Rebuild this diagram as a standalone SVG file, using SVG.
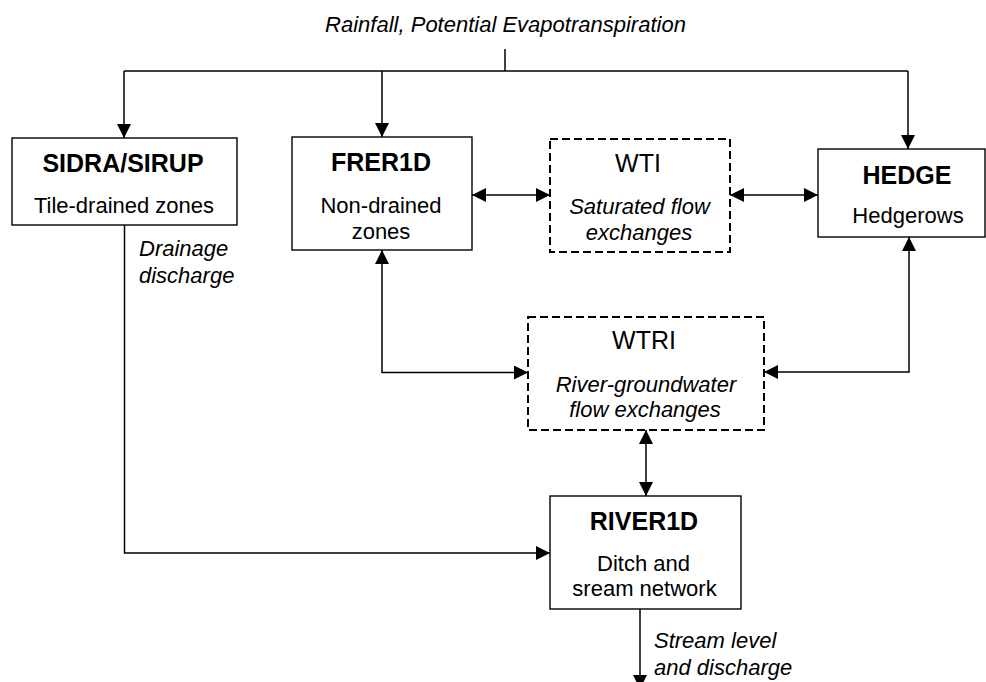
<svg xmlns="http://www.w3.org/2000/svg" width="986" height="682" viewBox="0 0 986 682">
<style>
  .box { fill: #ffffff; stroke: #000000; stroke-width: 1.4; }
  .dash { fill: #ffffff; stroke: #000000; stroke-width: 2; stroke-dasharray: 8 4; }
  .con { fill: none; stroke: #000000; stroke-width: 1.5; }
  text { font-family: "Liberation Sans", Arial, sans-serif; fill: #000000; }
  .title { font-size: 25px; font-weight: bold; text-anchor: middle; }
  .big { font-size: 25px; text-anchor: middle; }
  .sub { font-size: 22px; text-anchor: middle; }
  .it { font-size: 22px; font-style: italic; }
  .itc { font-size: 22px; font-style: italic; text-anchor: middle; }
</style>
<defs>
  <marker id="arr" viewBox="0 0 14 14" refX="14" refY="7" markerWidth="14" markerHeight="14" markerUnits="userSpaceOnUse" orient="auto-start-reverse">
    <path d="M0,0 L14,7 L0,14 z" fill="#000000"/>
  </marker>
</defs>

<text class="itc" x="505.5" y="32">Rainfall, Potential Evapotranspiration</text>

<g id="connectors">
  <path class="con" d="M505,49 V71"/>
  <path class="con" d="M124,71 H908"/>
  <path class="con" d="M124,71 V138" marker-end="url(#arr)"/>
  <path class="con" d="M382,71 V137" marker-end="url(#arr)"/>
  <path class="con" d="M908,71 V149" marker-end="url(#arr)"/>
  <path class="con" d="M472,195 H550" marker-start="url(#arr)" marker-end="url(#arr)"/>
  <path class="con" d="M730,195 H818" marker-start="url(#arr)" marker-end="url(#arr)"/>
  <path class="con" d="M382,250 V372.5 H528" marker-start="url(#arr)" marker-end="url(#arr)"/>
  <path class="con" d="M909,237 V372 H764" marker-start="url(#arr)" marker-end="url(#arr)"/>
  <path class="con" d="M646,430 V496" marker-start="url(#arr)" marker-end="url(#arr)"/>
  <path class="con" d="M124.5,225 V553 H550" marker-end="url(#arr)"/>
  <path class="con" d="M640,609 V689" marker-end="url(#arr)"/>
</g>

<g id="sidra">
  <rect class="box" x="12" y="138" width="225" height="87"/>
  <text class="title" x="123" y="172">SIDRA/SIRUP</text>
  <text class="sub" x="124" y="213">Tile-drained zones</text>
</g>

<g id="frer1d">
  <rect class="box" x="292" y="137" width="180" height="113"/>
  <text class="title" x="381" y="171">FRER1D</text>
  <text class="sub" x="381" y="213">Non-drained</text>
  <text class="sub" x="381" y="238.5">zones</text>
</g>

<g id="wti">
  <rect class="dash" x="550" y="139" width="180" height="113"/>
  <text class="big" x="638" y="172">WTI</text>
  <text class="itc" x="639.5" y="213.5">Saturated flow</text>
  <text class="itc" x="639" y="239.5">exchanges</text>
</g>

<g id="hedge">
  <rect class="box" x="818" y="149" width="167" height="88"/>
  <text class="title" x="907" y="184">HEDGE</text>
  <text class="sub" x="908" y="223">Hedgerows</text>
</g>

<g id="wtri">
  <rect class="dash" x="528" y="317" width="236" height="113"/>
  <text class="big" x="644" y="349">WTRI</text>
  <text class="itc" x="646" y="391.5">River-groundwater</text>
  <text class="itc" x="645" y="417">flow exchanges</text>
</g>

<g id="river1d">
  <rect class="box" x="550" y="496" width="191" height="113"/>
  <text class="title" x="644" y="529.5">RIVER1D</text>
  <text class="sub" x="643.5" y="571">Ditch and</text>
  <text class="sub" x="644.5" y="596">sream network</text>
</g>

<g id="labels">
  <text class="it" x="139" y="256">Drainage</text>
  <text class="it" x="139" y="282.5">discharge</text>
  <text class="it" x="654" y="648">Stream level</text>
  <text class="it" x="654" y="675">and discharge</text>
</g>
</svg>
